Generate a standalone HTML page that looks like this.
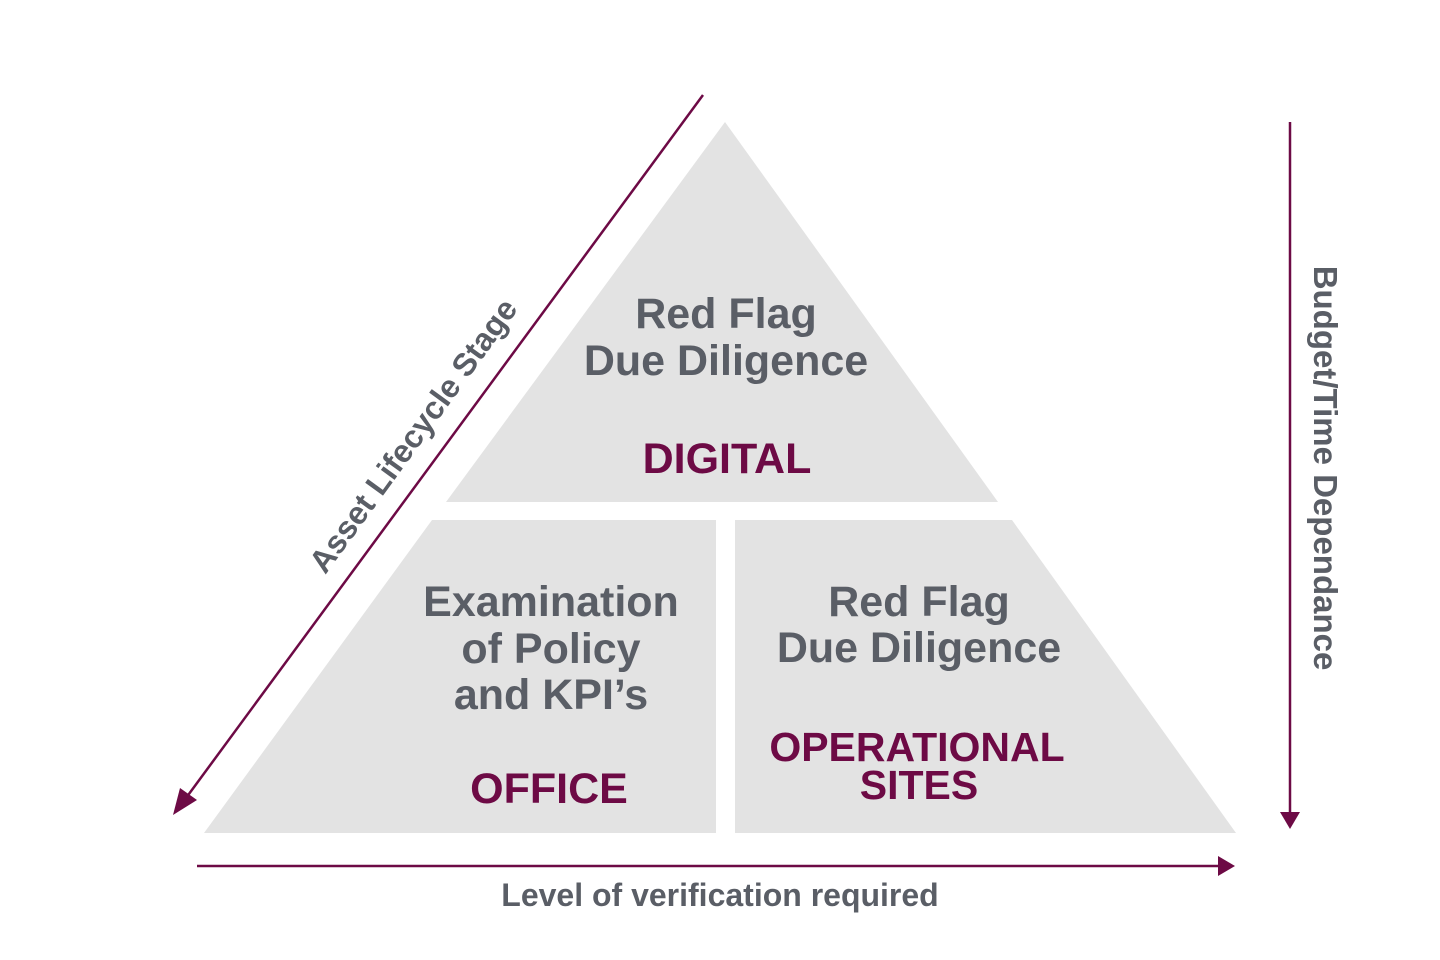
<!DOCTYPE html>
<html><head><meta charset="utf-8"><style>
html,body{margin:0;padding:0;background:#fff;}
svg{display:block;}
text{font-family:"Liberation Sans",sans-serif;font-weight:bold;}
</style></head><body>
<svg width="1440" height="960" viewBox="0 0 1440 960" xmlns="http://www.w3.org/2000/svg">
<polygon points="725,122 998,502 446,502" fill="#e3e3e3"/>
<polygon points="432,520 716,520 716,833 204,833" fill="#e3e3e3"/>
<polygon points="735,520 1012,520 1236,833 735,833" fill="#e3e3e3"/>
<g fill="#6d0a45" stroke="#6d0a45">
<line x1="703" y1="95" x2="186" y2="798" stroke-width="2.5"/>
<polygon points="173,815 180,788 197,800" stroke="none"/>
<line x1="1290" y1="122" x2="1290" y2="812" stroke-width="2.5"/>
<polygon points="1280,812 1300,812 1290,829" stroke="none"/>
<line x1="197" y1="866" x2="1218" y2="866" stroke-width="2.5"/>
<polygon points="1218,856 1218,876 1235,866" stroke="none"/>
</g>
<g fill="#5a5e66" font-size="43" text-anchor="middle">
<text x="726" y="328">Red Flag</text>
<text x="726" y="375">Due Diligence</text>
<text x="551" y="616">Examination</text>
<text x="551" y="663">of Policy</text>
<text x="551" y="709">and KPI’s</text>
<text x="919" y="616">Red Flag</text>
<text x="919" y="662">Due Diligence</text>
</g>
<g fill="#6d0a45" font-size="41" text-anchor="middle">
<text x="727" y="473" font-size="43">DIGITAL</text>
<text x="549" y="803" font-size="43">OFFICE</text>
<text x="917" y="761">OPERATIONAL</text>
<text x="919" y="799">SITES</text>
</g>
<text x="720" y="906" fill="#5a5e66" font-size="32" text-anchor="middle">Level of verification required</text>
<text transform="translate(422,442) rotate(-54)" fill="#5a5e66" font-size="32" text-anchor="middle">Asset Lifecycle Stage</text>
<text transform="translate(1314,468) rotate(90)" fill="#5a5e66" font-size="33" text-anchor="middle">Budget/Time Dependance</text>
</svg>
</body></html>
